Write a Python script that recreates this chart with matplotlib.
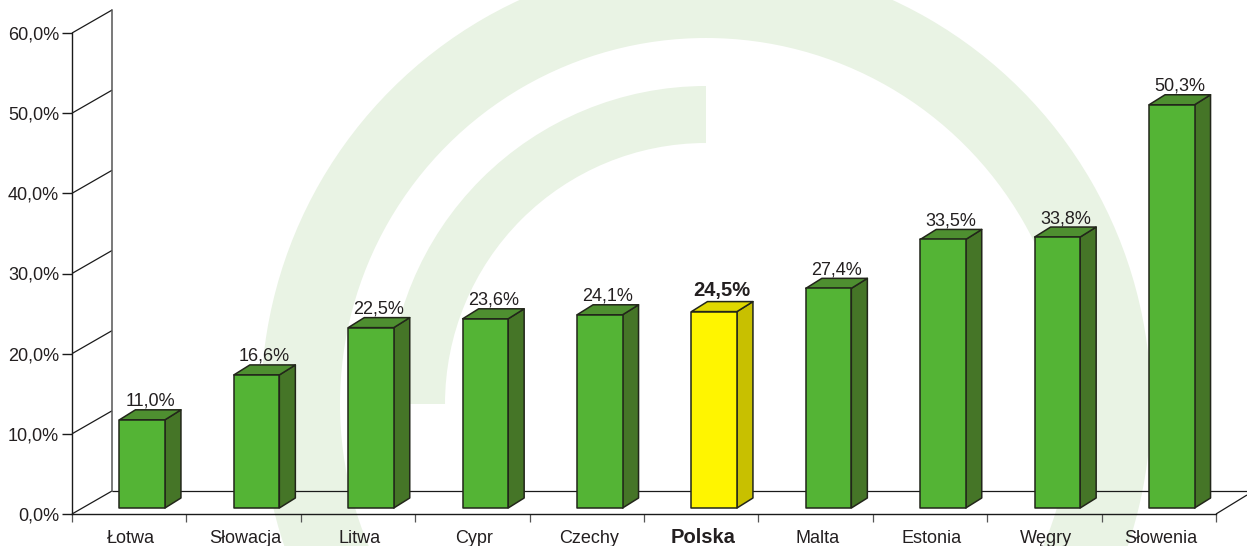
import matplotlib
matplotlib.use("Agg")
import matplotlib.pyplot as plt
from matplotlib.patches import Wedge, Polygon
from matplotlib.transforms import Affine2D

countries = ["Łotwa", "Słowacja", "Litwa", "Cypr", "Czechy", "Polska", "Malta", "Estonia", "Węgry", "Słowenia"]
values = [11.0, 16.6, 22.5, 23.6, 24.1, 24.5, 27.4, 33.5, 33.8, 50.3]
highlight = "Polska"
yticks = [0, 10, 20, 30, 40, 50, 60]

W, H = 1247, 546
plt.rcParams["font.family"] = ["Liberation Sans", "DejaVu Sans"]
TXT = "#231F20"; EDGE = "#22261A"
FS, FSB = 13, 14.5
fig = plt.figure(figsize=(W/100, H/100), dpi=100, facecolor="white")

# background logo
bg = fig.add_axes([0, 0, 1, 1], zorder=0)
bg.set_xlim(0, W); bg.set_ylim(0, H); bg.axis("off")
LOGO = "#E9F3E4"
cy = H - 404
bg.add_patch(Wedge((706, cy), 318, 90, 180, width=57, fc=LOGO, ec="none"))
bg.add_patch(Wedge((706, cy), 445, -30, 210, width=79, fc=LOGO, ec="none"))

L, R, B, T = 72, 1216, 514, 33
ax = fig.add_axes([L/W, (H-B)/H, (R-L)/W, (B-T)/H], zorder=1)
ax.patch.set_alpha(0)
ax.set_xlim(0, 10); ax.set_ylim(0, 60)
for s in ("top", "right"):
    ax.spines[s].set_visible(False)
for s in ("left", "bottom"):
    ax.spines[s].set_color("#1a1a1a"); ax.spines[s].set_linewidth(1.0)

def shifted(dx, dy):
    return ax.transData + Affine2D().translate(dx, dy)

DX, DY = 40, 23
LN = dict(color="#1a1a1a", lw=0.9, clip_on=False, solid_capstyle="butt")
# walls
for v in yticks:
    ax.plot([0, DX/114.4], [v, v + DY/8.017], **LN)
ax.plot([0, 0], [0, 60], transform=shifted(DX, DY), color="#555555", lw=1.1, clip_on=False)
# floor
ax.plot([0, (W-L-DX)/114.4], [0, 0], transform=shifted(DX, DY), **LN)
ax.plot([10, 10 + 31/114.4], [0, 19/8.017], **LN)

BW = 45.5/114.4
bx, by = 13, 6
ddx, ddy = 16/114.4, 10/8.017
GREEN = ("#54B435", "#457527", "#4E8F30")
YELL = ("#FFF500", "#C8C000", "#E0D800")
tr = shifted(bx, by)
for i, (c, v) in enumerate(zip(countries, values)):
    f, s, t = YELL if c == highlight else GREEN
    x0 = i + 0.5 - BW/2; x1 = x0 + BW
    kw = dict(transform=tr, ec=EDGE, lw=1.1, clip_on=False, joinstyle="round", zorder=3)
    ax.add_patch(Polygon([(x1, 0), (x1+ddx, ddy), (x1+ddx, v+ddy), (x1, v)], fc=s, **kw))
    ax.add_patch(Polygon([(x0, v), (x1, v), (x1+ddx, v+ddy), (x0+ddx, v+ddy)], fc=t, **kw))
    ax.add_patch(Polygon([(x0, 0), (x1, 0), (x1, v), (x0, v)], fc=f, **kw))
    bold = c == highlight
    ax.annotate(f"{v:.1f}%".replace(".", ","), (x0 + BW/2 + ddx*0.5, v + ddy), xycoords=tr,
                xytext=(0, 2 if bold else 0), textcoords="offset pixels", ha="center", va="bottom",
                fontsize=FSB if bold else FS, fontweight="bold" if bold else "normal", color=TXT, zorder=4)

ax.set_yticks(yticks)
ax.set_yticklabels([f"{v:.1f}%".replace(".", ",") for v in yticks], fontsize=FS, color=TXT)
ax.tick_params(axis="y", length=7.2, width=1.0, color="#1a1a1a", pad=2)
ax.set_xticks(range(11)); ax.set_xticklabels([])
ax.tick_params(axis="x", which="major", length=6, width=0.9, color="#555555")
ax.set_xticks([i + 0.5 + 2/114.4 for i in range(10)], minor=True)
ax.set_xticklabels(countries, minor=True, fontsize=FS, color=TXT, va="baseline")
ax.tick_params(axis="x", which="minor", length=0, pad=21)
for lab in ax.get_xticklabels(minor=True):
    if lab.get_text() == highlight:
        lab.set_fontweight("bold"); lab.set_fontsize(FSB)

fig.savefig("out.png", dpi=100)
